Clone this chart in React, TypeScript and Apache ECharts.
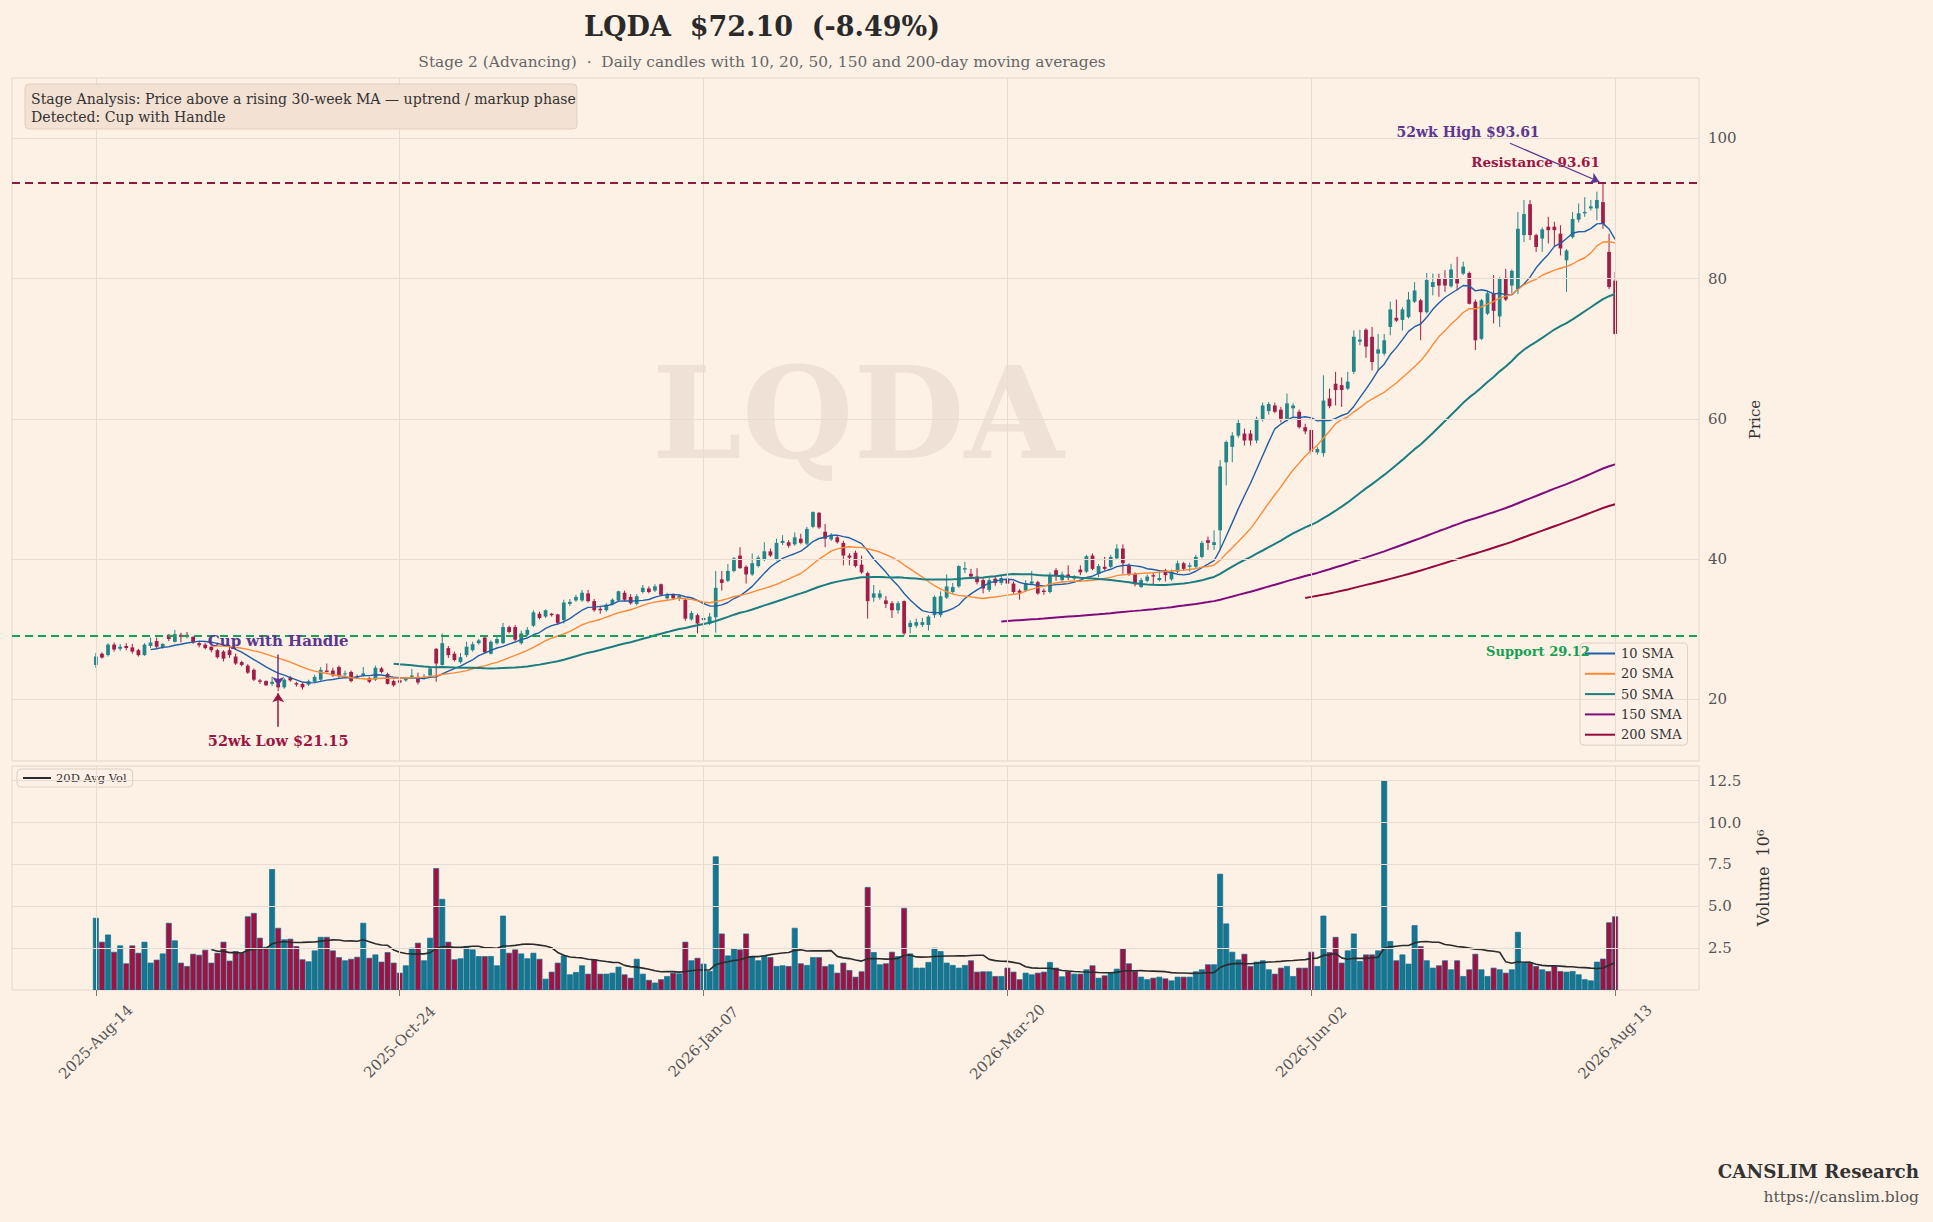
import React, { useEffect, useRef } from "react";
import * as echarts from "echarts";

const ticker = "LQDA";
const lastPriceText = "$72.10";
const changeText = "(-8.49%)";
const subtitleText = "Stage 2 (Advancing)  ·  Daily candles with 10, 20, 50, 150 and 200-day moving averages";
const stageLines = [
  "Stage Analysis: Price above a rising 30-week MA — uptrend / markup phase",
  "Detected: Cup with Handle",
];

const tickIdx = [0, 50, 100, 150, 200, 250];
const tickLabels = ["2025-Aug-14", "2025-Oct-24", "2026-Jan-07", "2026-Mar-20", "2026-Jun-02", "2026-Aug-13"];
const priceTicks = [20, 40, 60, 80, 100];
const volTicks = [2.5, 5, 7.5, 10, 12.5];

const opens = [
  24.9, 26.5, 26.3, 27.8, 27.2, 27.6, 27.4, 27.0, 26.3, 27.6,
  28.3, 27.4, 29.2, 28.2, 29.2, 29.2, 28.9, 28.0, 27.8, 27.5,
  27.0, 26.8, 27.0, 26.1, 25.3, 24.8, 24.2, 22.7, 22.6, 22.2,
  22.2, 21.7, 23.1, 22.3, 22.2, 22.1, 22.5, 22.8, 24.1, 24.1,
  24.6, 23.6, 23.9, 23.3, 23.4, 23.0, 22.8, 24.4, 23.6, 22.6,
  22.7, 22.7, 23.2, 23.2, 23.1, 23.4, 27.2, 24.9, 27.3, 26.5,
  25.3, 26.3, 27.0, 28.0, 28.8, 26.5, 28.0, 28.0, 30.3, 30.3,
  28.0, 29.2, 30.5, 32.2, 31.8, 32.2, 32.1, 31.3, 33.6, 34.1,
  34.1, 35.1, 34.0, 32.9, 32.7, 33.6, 34.1, 35.2, 34.6, 33.6,
  35.3, 35.8, 35.5, 36.4, 34.4, 34.9, 34.3, 34.2, 31.4, 32.0,
  31.3, 30.8, 31.7, 37.1, 36.9, 38.3, 40.5, 38.9, 37.8, 39.0,
  39.9, 41.1, 40.0, 42.3, 42.4, 42.1, 42.9, 42.2, 44.6, 46.6,
  43.9, 42.8, 43.1, 42.3, 40.5, 40.9, 39.2, 38.0, 34.5, 34.5,
  34.1, 33.7, 32.7, 34.0, 30.3, 30.5, 30.6, 30.6, 32.0, 32.0,
  34.5, 35.3, 36.1, 38.5, 37.9, 37.5, 37.0, 35.6, 37.2, 36.6,
  37.2, 36.5, 35.5, 35.5, 36.5, 36.7, 35.5, 35.3, 38.4, 37.0,
  37.8, 37.2, 38.5, 38.2, 40.5, 37.9, 38.9, 38.9, 40.1, 41.5,
  39.1, 37.9, 36.0, 36.9, 37.7, 37.0, 38.4, 37.1, 38.2, 39.4,
  38.9, 38.9, 40.3, 42.7, 42.0, 44.1, 53.8, 56.0, 57.6, 57.9,
  57.9, 56.9, 59.9, 61.1, 61.9, 61.3, 60.0, 61.5, 61.0, 58.8,
  58.4, 55.2, 55.1, 62.9, 65.0, 64.8, 64.3, 66.7, 71.0, 72.7,
  71.7, 69.3, 69.3, 73.1, 74.4, 74.1, 74.5, 76.7, 76.9, 75.2,
  78.8, 80.0, 80.0, 78.9, 80.0, 80.7, 80.8, 76.7, 71.4, 75.0,
  77.9, 74.6, 80.1, 79.0, 78.5, 86.2, 90.6, 86.2, 85.7, 87.4,
  87.4, 86.4, 82.6, 85.9, 88.4, 89.3, 90.0, 90.0, 90.9, 83.8,
  79.7,
];
const closes = [
  26.1, 25.95, 27.8, 27.1, 27.5, 27.3, 26.8, 26.3, 27.8, 28.1,
  27.5, 27.9, 28.6, 29.3, 28.9, 29.0, 28.1, 27.7, 27.3, 27.0,
  26.0, 25.8, 26.3, 25.1, 24.9, 23.8, 22.8, 22.5, 22.0, 22.5,
  21.7, 22.8, 22.7, 22.1, 21.7, 22.6, 23.2, 24.2, 23.9, 23.4,
  23.3, 23.7, 22.6, 23.2, 23.7, 22.5, 24.5, 23.9, 22.2, 22.0,
  22.4, 23.0, 23.4, 22.4, 23.2, 24.4, 25.1, 28.0, 26.3, 25.6,
  26.0, 27.5, 27.85, 28.4, 26.7, 28.2, 28.6, 30.3, 29.6, 28.5,
  29.4, 29.9, 32.4, 31.6, 32.7, 32.0, 30.9, 33.8, 33.9, 34.6,
  35.2, 34.0, 32.7, 32.7, 33.5, 34.2, 35.4, 34.2, 33.7, 34.7,
  35.9, 35.3, 36.1, 34.9, 34.9, 34.4, 34.8, 31.5, 32.3, 30.8,
  31.6, 31.8, 35.9, 36.6, 38.3, 40.1, 38.7, 37.8, 39.4, 40.2,
  41.1, 40.5, 42.3, 42.6, 41.9, 43.1, 42.3, 44.3, 46.7, 44.5,
  42.9, 43.4, 42.4, 40.5, 40.2, 39.0, 38.1, 34.0, 35.1, 35.1,
  33.6, 32.7, 33.7, 29.4, 30.9, 31.0, 31.0, 31.8, 34.6, 34.7,
  36.1, 36.0, 39.0, 38.7, 37.5, 36.7, 35.8, 37.0, 36.6, 37.3,
  36.5, 35.3, 35.2, 36.6, 36.8, 35.1, 35.3, 37.7, 37.7, 37.8,
  37.4, 37.5, 38.1, 40.4, 38.6, 39.0, 38.6, 40.3, 41.5, 39.4,
  37.9, 36.4, 37.0, 37.5, 37.5, 37.3, 37.7, 38.2, 39.4, 38.6,
  39.1, 40.3, 42.3, 42.3, 42.4, 53.2, 56.7, 57.6, 59.4, 56.9,
  56.9, 60.0, 61.9, 62.1, 61.0, 60.0, 62.2, 61.9, 58.8, 58.2,
  55.3, 55.7, 62.6, 61.8, 64.1, 64.1, 65.3, 71.7, 71.3, 70.3,
  68.1, 69.9, 71.2, 75.6, 74.0, 75.6, 77.0, 78.3, 75.2, 79.8,
  79.5, 79.0, 79.0, 81.3, 79.3, 81.7, 76.4, 71.2, 76.9, 77.9,
  75.4, 80.0, 77.0, 81.1, 87.1, 89.2, 86.2, 84.5, 87.0, 86.9,
  86.9, 84.3, 84.0, 88.5, 89.3, 89.5, 90.3, 91.2, 87.8, 78.79,
  72.10,
];
const highs = [
  26.6, 26.7, 28.0, 28.1, 27.9, 28.0, 27.9, 27.2, 28.0, 28.8,
  28.8, 28.0, 29.3, 29.9, 29.5, 29.6, 29.0, 28.3, 28.0, 27.7,
  27.2, 27.0, 27.6, 26.5, 25.5, 25.0, 24.4, 22.9, 22.7, 23.2,
  23.0, 23.0, 23.3, 22.5, 22.4, 22.8, 23.5, 24.6, 25.1, 24.5,
  24.8, 24.1, 24.1, 23.5, 24.6, 23.2, 24.8, 24.6, 23.8, 22.8,
  22.9, 23.2, 24.3, 23.8, 23.6, 24.6, 27.3, 29.4, 27.6, 26.8,
  26.6, 28.2, 28.2, 28.6, 29.0, 28.4, 29.0, 30.9, 30.5, 30.6,
  29.8, 30.3, 32.7, 32.5, 32.8, 32.3, 32.2, 34.2, 34.3, 34.9,
  35.6, 35.6, 34.3, 33.2, 33.7, 34.4, 35.5, 35.5, 35.0, 35.0,
  36.3, 36.1, 36.4, 36.5, 35.2, 35.1, 35.0, 34.4, 32.6, 32.2,
  31.9, 32.3, 38.3, 38.3, 39.3, 40.3, 41.7, 39.1, 40.8, 40.5,
  42.4, 41.5, 42.9, 43.4, 42.7, 43.8, 43.6, 44.6, 46.8, 46.7,
  45.0, 43.7, 43.4, 42.6, 40.8, 41.2, 40.5, 38.2, 36.3, 35.6,
  34.7, 34.0, 34.0, 34.1, 31.3, 31.5, 31.6, 32.0, 34.8, 35.4,
  37.8, 36.6, 39.1, 39.6, 38.6, 38.7, 37.3, 37.3, 37.6, 37.6,
  37.6, 36.8, 35.7, 37.0, 38.3, 36.9, 35.8, 38.1, 38.7, 38.2,
  39.1, 37.7, 39.1, 40.6, 40.8, 39.3, 40.3, 40.6, 42.1, 42.1,
  39.4, 38.1, 37.3, 37.8, 38.0, 38.4, 38.6, 38.5, 39.8, 39.6,
  39.5, 40.6, 42.6, 43.2, 44.1, 54.1, 56.9, 58.1, 59.9, 58.6,
  58.4, 60.3, 62.3, 62.4, 62.3, 61.7, 63.6, 62.2, 61.3, 59.3,
  58.6, 56.0, 66.2, 64.3, 66.7, 65.9, 66.7, 72.6, 72.7, 72.9,
  73.1, 72.1, 72.1, 76.7, 77.0, 75.9, 78.1, 79.5, 77.1, 80.8,
  80.7, 80.7, 81.2, 82.1, 83.1, 82.4, 81.0, 77.0, 77.1, 78.2,
  80.5, 80.2, 81.4, 81.3, 89.5, 91.2, 91.2, 86.4, 87.3, 88.8,
  88.1, 87.6, 84.2, 89.5, 90.7, 91.6, 91.2, 92.4, 93.61, 86.4,
  80.9,
];
const lows = [
  24.5, 25.8, 26.1, 26.8, 26.9, 27.0, 26.5, 26.1, 26.2, 27.3,
  27.3, 27.2, 28.3, 28.1, 28.1, 28.7, 27.9, 27.4, 27.1, 26.7,
  25.8, 25.4, 25.9, 24.9, 24.7, 23.6, 22.6, 22.2, 21.9, 21.9,
  21.15, 21.5, 22.5, 21.8, 21.4, 21.9, 22.3, 22.6, 23.8, 23.2,
  23.0, 23.2, 22.4, 22.9, 23.2, 22.3, 22.6, 23.7, 22.1, 21.8,
  22.2, 22.5, 23.0, 22.1, 22.8, 23.2, 22.5, 24.8, 25.9, 25.4,
  25.1, 26.0, 26.8, 27.8, 26.5, 26.4, 27.8, 27.9, 29.4, 28.3,
  27.8, 29.0, 30.3, 31.4, 31.6, 31.8, 30.7, 30.8, 33.3, 33.9,
  33.9, 33.8, 32.5, 32.2, 32.5, 33.4, 33.9, 34.0, 33.5, 33.4,
  35.1, 35.1, 35.3, 34.8, 34.2, 34.2, 34.0, 31.2, 31.2, 29.4,
  31.1, 30.6, 29.5, 35.5, 36.7, 38.1, 38.6, 36.5, 37.6, 38.8,
  39.7, 40.3, 39.8, 42.0, 41.6, 41.9, 42.1, 42.0, 44.4, 44.3,
  41.7, 42.6, 42.2, 39.1, 39.1, 38.8, 37.9, 31.5, 33.9, 34.2,
  33.0, 31.6, 32.2, 29.12, 29.4, 30.2, 30.3, 29.8, 31.6, 31.7,
  34.3, 35.0, 35.9, 38.0, 37.3, 36.4, 35.1, 35.3, 36.2, 36.3,
  36.3, 35.1, 34.2, 35.3, 36.3, 34.9, 34.9, 35.1, 36.9, 36.7,
  37.0, 37.0, 37.7, 38.0, 38.4, 37.4, 38.4, 38.7, 39.9, 37.9,
  37.6, 36.1, 35.9, 36.7, 36.3, 36.8, 36.8, 36.9, 38.0, 38.3,
  38.2, 38.7, 40.1, 41.3, 41.3, 41.3, 50.5, 53.8, 57.3, 56.2,
  56.2, 56.5, 59.6, 60.6, 60.8, 59.5, 59.6, 60.3, 58.6, 57.8,
  54.8, 54.9, 54.6, 61.5, 61.9, 61.7, 64.1, 66.4, 70.5, 68.7,
  66.9, 66.9, 69.0, 71.9, 73.8, 72.6, 74.3, 76.5, 71.2, 75.0,
  77.6, 77.4, 78.1, 78.7, 78.3, 80.5, 76.3, 69.8, 71.2, 74.8,
  73.6, 73.1, 76.8, 77.9, 77.8, 85.2, 85.5, 83.8, 83.8, 85.0,
  84.5, 83.3, 78.1, 85.7, 88.0, 88.8, 89.7, 88.3, 87.1, 78.5,
  72.0,
];
const volumes = [
  4.29, 2.86, 3.29, 2.26, 2.64, 1.57, 2.64, 2.20, 2.86, 1.61,
  1.79, 2.16, 3.99, 2.94, 1.61, 1.41, 2.14, 2.08, 2.38, 1.61,
  2.20, 2.86, 1.73, 2.30, 2.20, 4.38, 4.58, 3.10, 2.56, 7.20,
  3.69, 3.00, 3.04, 2.60, 1.81, 1.69, 2.34, 3.15, 3.15, 2.34,
  1.94, 1.75, 1.84, 1.96, 3.99, 1.90, 2.10, 1.67, 2.24, 1.61,
  1.01, 1.45, 2.50, 2.80, 1.75, 3.10, 7.26, 5.42, 2.86, 1.81,
  1.87, 2.60, 2.40, 2.00, 2.00, 2.00, 1.45, 4.42, 2.20, 2.40,
  2.16, 1.87, 2.20, 1.84, 0.65, 1.07, 1.61, 2.04, 0.91, 1.05,
  1.45, 0.95, 1.81, 0.95, 0.95, 1.01, 1.37, 0.91, 0.71, 1.84,
  0.95, 0.58, 0.42, 0.62, 0.81, 1.01, 0.97, 2.86, 1.75, 1.90,
  1.55, 1.11, 7.96, 3.35, 2.04, 2.46, 2.40, 3.35, 2.00, 1.75,
  2.04, 1.94, 1.41, 1.45, 1.41, 3.69, 1.57, 1.47, 1.94, 1.94,
  1.41, 1.51, 1.01, 1.61, 1.17, 0.77, 1.09, 6.13, 2.24, 1.51,
  1.57, 2.26, 2.00, 4.88, 2.16, 1.31, 1.31, 1.65, 2.50, 2.30,
  1.61, 1.47, 1.31, 1.47, 1.75, 1.07, 1.09, 1.09, 0.81, 0.81,
  1.31, 1.07, 0.62, 1.01, 0.91, 1.01, 1.07, 1.65, 1.31, 0.79,
  1.09, 0.95, 0.95, 1.21, 1.45, 0.71, 0.85, 1.01, 1.25, 2.46,
  1.57, 1.11, 0.77, 0.62, 0.71, 0.77, 0.67, 0.55, 0.77, 0.77,
  0.77, 1.09, 1.21, 1.51, 1.51, 6.92, 3.95, 2.26, 1.80, 2.14,
  1.41, 1.67, 1.75, 1.21, 0.95, 1.31, 1.41, 0.81, 1.31, 1.31,
  2.26, 1.41, 4.42, 2.24, 3.15, 1.61, 2.34, 3.35, 1.71, 2.10,
  2.10, 2.34, 12.48, 2.90, 1.75, 2.10, 1.55, 3.85, 2.60, 1.75,
  1.31, 1.45, 1.75, 1.21, 1.75, 0.81, 1.21, 2.14, 1.21, 0.81,
  1.31, 1.21, 1.01, 1.21, 3.45, 1.61, 1.61, 1.41, 1.21, 1.11,
  1.41, 1.11, 1.07, 1.11, 0.91, 0.62, 0.55, 1.67, 1.85, 4.02,
  4.38,
];

const smaWindows = [10, 20, 50, 150, 200];
const smaNames = ["10 SMA", "20 SMA", "50 SMA", "150 SMA", "200 SMA"];
const smaColors = ["#1f5ea8", "#ff8a35", "#1b7d80", "#800b7d", "#96093d"];
const smaWidths = [1.4, 1.4, 2, 2, 2];
const volAvgWindow = 20;
const volAvgName = "20D Avg Vol";

const supportLevel = 29.12;
const resistanceLevel = 93.61;
const low52 = { idx: 30, value: 21.15 };
const high52 = { idx: 248, value: 93.61 };

const FONT = "'DejaVu Serif', serif";
const BG = "#fdf1e6";
const GRID_LINE = "#e8dcd2";
const UP = "#23878a";
const DOWN = "#a21d48";
const VOL_UP = "#14768f";
const VOL_DOWN = "#a3103f";
const VOL_EDGE = "#1b6f93";
const PURPLE = "#5b3790";
const CRIMSON = "#9c1542";
const GREEN = "#14a052";

const X_MIN = -13.8;
const X_MAX = 263.8;

function rolling(arr: number[], w: number): number[][] {
  const out: number[][] = [];
  let s = 0;
  for (let i = 0; i < arr.length; i++) {
    s += arr[i];
    if (i >= w) s -= arr[i - w];
    if (i >= w - 1) out.push([i, s / w]);
  }
  return out;
}

export default function App() {
  const ref = useRef<HTMLDivElement>(null);
  useEffect(() => {
    document.body.style.margin = "0";
    document.body.style.background = BG;
    const chart = echarts.init(ref.current!, undefined, { renderer: "svg" });

    const candleData = opens.map((o, i) => [i, o, closes[i], lows[i], highs[i]]);
    const volData = volumes.map((v, i) => [i, v, closes[i] >= opens[i] ? 1 : 0]);
    const lineHidden = { opacity: 0 };
    const gl = { color: GRID_LINE, width: 1, type: "solid" };
    const axisLabelStyle = { color: "#555", fontSize: 15, fontFamily: FONT };

    const option: any = {
      animation: false,
      backgroundColor: BG,
      textStyle: { fontFamily: FONT },
      grid: [
        { left: 12, right: 234, top: 78, height: 683, show: true, borderColor: "#e2d5ca", borderWidth: 1, backgroundColor: "transparent" },
        { left: 12, right: 234, top: 766, height: 224, show: true, borderColor: "#e2d5ca", borderWidth: 1, backgroundColor: "transparent" },
      ],
      xAxis: [
        { type: "value", gridIndex: 0, min: X_MIN, max: X_MAX, show: false },
        {
          type: "value", gridIndex: 1, min: X_MIN, max: X_MAX,
          splitLine: { show: false }, axisLine: { show: false },
          axisTick: { show: true, customValues: tickIdx, length: 6, lineStyle: { color: "#777" } },
          axisLabel: {
            customValues: tickIdx, rotate: 45, margin: 52, align: "center", verticalAlign: "middle", ...axisLabelStyle,
            formatter: (v: number) => tickLabels[tickIdx.indexOf(Math.round(v))] ?? "",
          },
        },
      ],
      yAxis: [
        {
          type: "value", gridIndex: 0, position: "right", min: 11.2, max: 108.6,
          splitLine: { show: false }, axisLine: { show: false },
          axisTick: { show: true, customValues: priceTicks, length: 5, lineStyle: { color: "#777" } },
          axisLabel: { customValues: priceTicks, margin: 9, ...axisLabelStyle },
          name: "Price", nameLocation: "middle", nameRotate: 90, nameGap: 46,
          nameTextStyle: { color: "#333", fontSize: 15, fontFamily: FONT },
        },
        {
          type: "value", gridIndex: 1, position: "right", min: 0, max: 13.38,
          splitLine: { show: false }, axisLine: { show: false },
          axisTick: { show: true, customValues: volTicks, length: 5, lineStyle: { color: "#777" } },
          axisLabel: { customValues: volTicks, margin: 9, ...axisLabelStyle, formatter: (v: number) => v.toFixed(1) },
          name: "Volume  10⁶", nameLocation: "middle", nameRotate: 90, nameGap: 56,
          nameTextStyle: { color: "#333", fontSize: 16, fontFamily: FONT },
        },
      ],
      legend: [
        {
          data: smaNames, orient: "vertical", left: 1580, top: 643,
          padding: [4, 6, 4, 4], itemWidth: 31, itemHeight: 14, itemGap: 7.3,
          itemStyle: { opacity: 0, borderWidth: 0 },
          backgroundColor: "rgba(253,241,230,0.85)", borderColor: "#dccfc3", borderWidth: 1, borderRadius: 4,
          textStyle: { color: "#333", fontSize: 13, fontFamily: FONT },
        },
        {
          data: [volAvgName], orient: "vertical", left: 17, top: 769,
          padding: [3, 6, 3, 5], itemWidth: 28, itemHeight: 12,
          itemStyle: { opacity: 0, borderWidth: 0 },
          backgroundColor: "rgba(253,241,230,0.85)", borderColor: "#dccfc3", borderWidth: 1, borderRadius: 4,
          textStyle: { color: "#333", fontSize: 11.5, fontFamily: FONT },
        },
      ],
      graphic: [
        {
          type: "text", x: 858, y: 413, z: 0, silent: true,
          style: { text: ticker, fill: "#efe1d6", fontSize: 128, fontWeight: "bold", fontFamily: FONT, align: "center", verticalAlign: "middle" },
        },
        {
          type: "text", x: 762, y: 26,
          style: { text: `${ticker}  ${lastPriceText}  ${changeText}`, fill: "#2a2a2a", fontSize: 27, fontWeight: "bold", fontFamily: FONT, align: "center", verticalAlign: "middle" },
        },
        {
          type: "text", x: 762, y: 62,
          style: { text: subtitleText, fill: "#666", fontSize: 15.4, fontFamily: FONT, align: "center", verticalAlign: "middle" },
        },
        {
          type: "rect", shape: { x: 25, y: 84, width: 552, height: 45, r: 4 },
          style: { fill: "#f3e1d3", stroke: "#e3cdbd", lineWidth: 1 }, z: 10,
        },
        {
          type: "text", x: 31, y: 99, z: 11,
          style: { text: stageLines[0], fill: "#333", fontSize: 14.1, fontFamily: FONT, align: "left", verticalAlign: "middle" },
        },
        {
          type: "text", x: 31, y: 117, z: 11,
          style: { text: stageLines[1], fill: "#333", fontSize: 14.1, fontFamily: FONT, align: "left", verticalAlign: "middle" },
        },
        {
          type: "text", x: 1919, y: 1171,
          style: { text: "CANSLIM Research", fill: "#333", fontSize: 18.3, fontWeight: "bold", fontFamily: FONT, align: "right", verticalAlign: "middle" },
        },
        {
          type: "text", x: 1919, y: 1197,
          style: { text: "https://canslim.blog", fill: "#555", fontSize: 15.5, fontFamily: FONT, align: "right", verticalAlign: "middle" },
        },
      ],
      series: [
        {
          type: "line", xAxisIndex: 0, yAxisIndex: 0, data: [[0, 50]], symbol: "none", lineStyle: lineHidden, silent: true, z: 1,
          markLine: {
            silent: true, symbol: ["none", "none"], label: { show: false },
            data: [
              ...priceTicks.map((v) => ({ yAxis: v, lineStyle: gl })),
              ...tickIdx.map((v) => ({ xAxis: v, lineStyle: gl })),
            ],
          },
        },
        {
          type: "line", xAxisIndex: 1, yAxisIndex: 1, data: [[0, 1]], symbol: "none", lineStyle: lineHidden, silent: true, z: 1,
          markLine: {
            silent: true, symbol: ["none", "none"], label: { show: false },
            data: [
              ...volTicks.map((v) => ({ yAxis: v, lineStyle: gl })),
              ...tickIdx.map((v) => ({ xAxis: v, lineStyle: gl })),
            ],
          },
        },
        {
          type: "line", xAxisIndex: 0, yAxisIndex: 0, data: [[0, 50]], symbol: "none", lineStyle: lineHidden, silent: true, z: 2,
          markLine: {
            silent: true, symbol: ["none", "none"], label: { show: false },
            data: [
              { yAxis: resistanceLevel, lineStyle: { color: "#8e1a42", width: 1.8, type: [8, 5] } },
              { yAxis: supportLevel, lineStyle: { color: "#17a058", width: 1.8, type: [8, 5] } },
            ],
          },
        },
        {
          type: "custom", xAxisIndex: 0, yAxisIndex: 0, z: 3, clip: true,
          data: candleData, encode: { x: 0, y: [1, 2, 3, 4] },
          renderItem: (params: any, api: any) => {
            const x = api.value(0), o = api.value(1), c = api.value(2), l = api.value(3), h = api.value(4);
            const pO = api.coord([x, o]);
            const pC = api.coord([x, c]);
            const pL = api.coord([x, l]);
            const pH = api.coord([x, h]);
            const w = api.size([0.62, 0])[0];
            const color = c >= o ? UP : DOWN;
            return {
              type: "group",
              children: [
                { type: "line", shape: { x1: pH[0], y1: pH[1], x2: pL[0], y2: pL[1] }, style: { stroke: color, lineWidth: 1 } },
                {
                  type: "rect",
                  shape: { x: pO[0] - w / 2, y: Math.min(pO[1], pC[1]), width: w, height: Math.max(Math.abs(pO[1] - pC[1]), 1) },
                  style: { fill: color },
                },
              ],
            };
          },
        },
        ...smaWindows.map((w, k) => ({
          type: "line", name: smaNames[k], xAxisIndex: 0, yAxisIndex: 0, z: 4,
          data: rolling(closes, w), symbol: "none", smooth: false,
          lineStyle: { color: smaColors[k], width: smaWidths[k] }, itemStyle: { color: smaColors[k] },
        })),
        {
          type: "line", xAxisIndex: 0, yAxisIndex: 0, data: [[0, 50]], symbol: "none", lineStyle: lineHidden, silent: true, z: 6,
          markLine: {
            silent: true, symbol: ["none", "arrow"], symbolSize: 9, label: { show: false },
            data: [
              [{ coord: [low52.idx, 26.4], lineStyle: { color: PURPLE, width: 1.5, type: "solid" } }, { coord: [low52.idx, 21.9] }],
              [{ coord: [low52.idx, 16.1], lineStyle: { color: CRIMSON, width: 1.5, type: "solid" } }, { coord: [low52.idx, low52.value - 0.3] }],
              [{ coord: [232.7, 99.3], lineStyle: { color: PURPLE, width: 1.2, type: "solid" } }, { coord: [high52.idx - 0.6, high52.value + 0.2] }],
            ],
          },
          markPoint: {
            symbol: "circle", symbolSize: 1, itemStyle: { color: "rgba(0,0,0,0)" }, silent: true,
            label: { show: true, position: "inside", fontFamily: FONT, fontWeight: "bold" },
            data: [
              { coord: [30, 28.3], label: { formatter: "Cup with Handle", color: PURPLE, fontSize: 15 } },
              { coord: [30, 14.15], label: { formatter: `52wk Low $${low52.value.toFixed(2)}`, color: CRIMSON, fontSize: 14.5 } },
              { coord: [225.8, 100.9], label: { formatter: `52wk High $${high52.value.toFixed(2)}`, color: PURPLE, fontSize: 14 } },
              { coord: [236.9, 96.65], label: { formatter: `Resistance ${resistanceLevel.toFixed(2)}`, color: CRIMSON, fontSize: 13.5 } },
              { coord: [237.3, 26.85], label: { formatter: `Support ${supportLevel.toFixed(2)}`, color: GREEN, fontSize: 13 } },
            ],
          },
        },
        {
          type: "custom", xAxisIndex: 1, yAxisIndex: 1, z: 3, clip: true,
          data: volData, encode: { x: 0, y: 1 },
          renderItem: (params: any, api: any) => {
            const x = api.value(0), v = api.value(1), up = api.value(2);
            const p0 = api.coord([x, 0]);
            const p1 = api.coord([x, v]);
            const w = api.size([0.85, 0])[0];
            return {
              type: "rect",
              shape: { x: p0[0] - w / 2, y: p1[1], width: w, height: p0[1] - p1[1] },
              style: { fill: up ? VOL_UP : VOL_DOWN, stroke: VOL_EDGE, lineWidth: 0.7 },
            };
          },
        },
        {
          type: "line", name: volAvgName, xAxisIndex: 1, yAxisIndex: 1, z: 4,
          data: rolling(volumes, volAvgWindow), symbol: "none",
          lineStyle: { color: "#2b2b2b", width: 1.6 }, itemStyle: { color: "#2b2b2b" },
        },
      ],
    };

    chart.setOption(option);
    return () => chart.dispose();
  }, []);

  return <div ref={ref} style={{ width: 1933, height: 1222 }} />;
}
